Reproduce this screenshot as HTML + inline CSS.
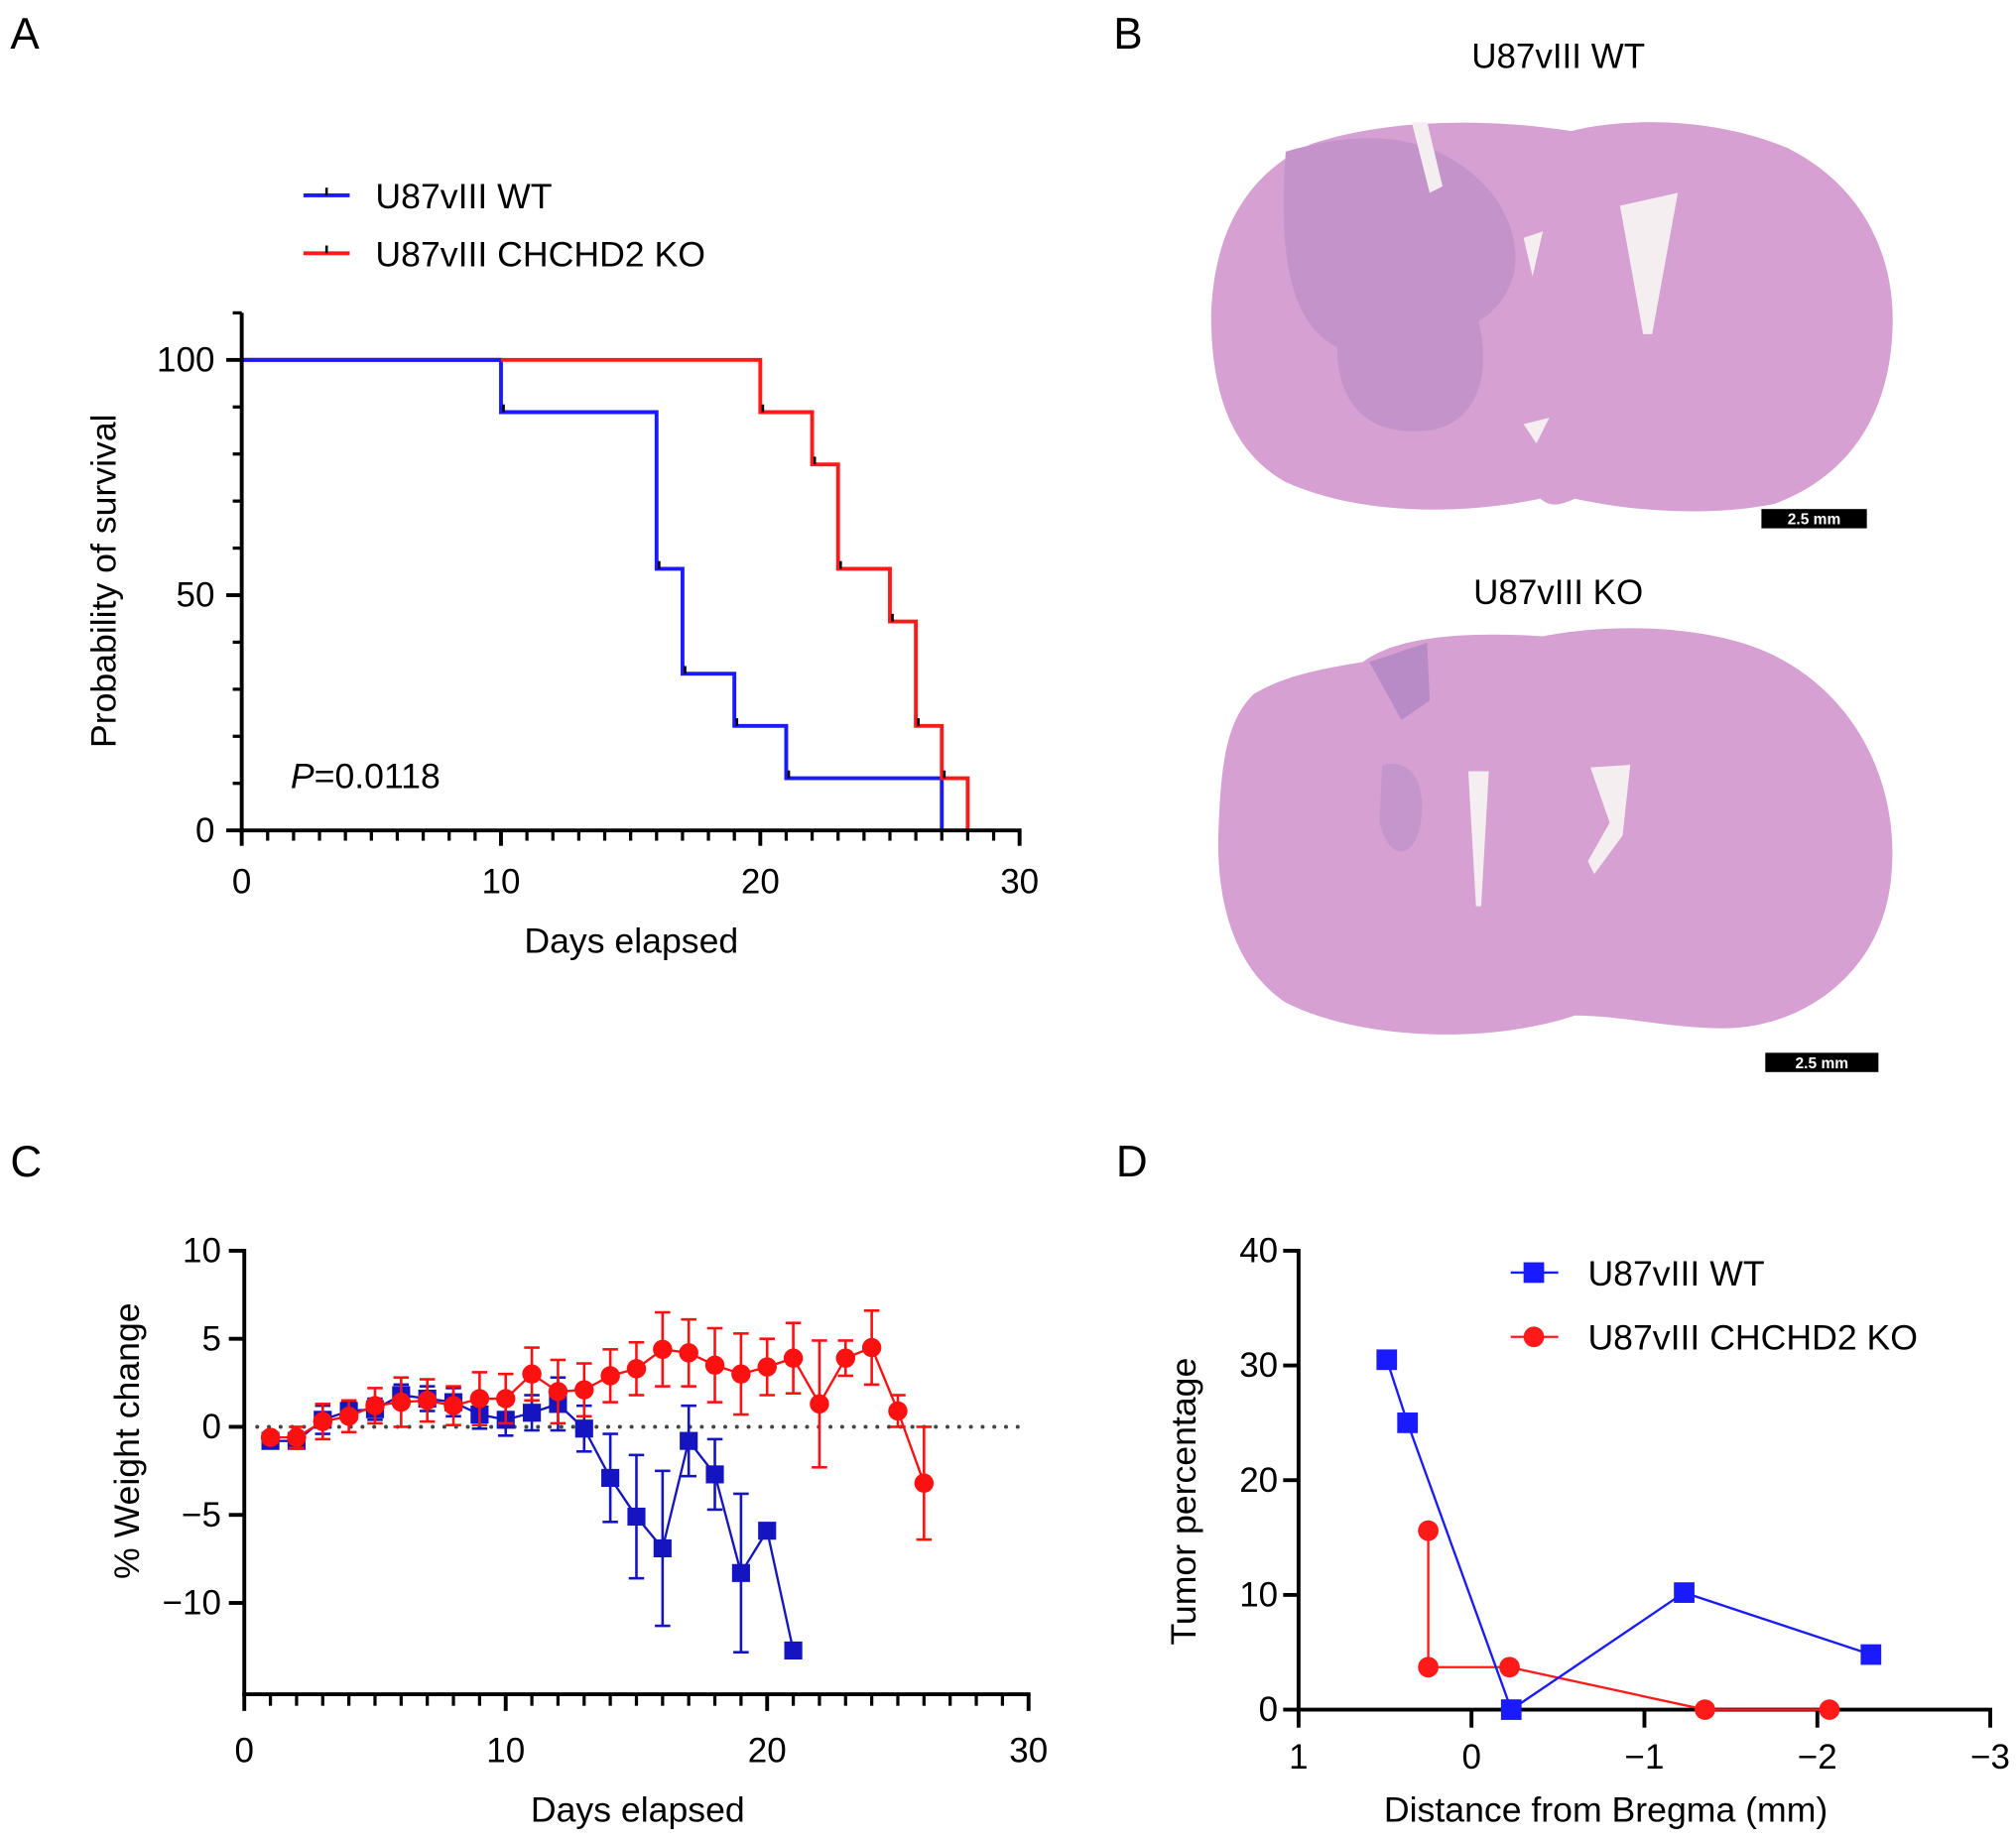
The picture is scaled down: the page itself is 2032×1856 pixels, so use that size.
<!DOCTYPE html>
<html><head><meta charset="utf-8"><style>
html,body{margin:0;padding:0;background:#fff;}
svg{display:block;font-family:"Liberation Sans",Arial,sans-serif;}
</style></head><body>
<svg id="fig" width="2032" height="1856" viewBox="0 0 1568 1432.2" xmlns="http://www.w3.org/2000/svg">
<!-- panel letters -->
<text x="8" y="38" font-size="34">A</text>
<text x="866" y="38" font-size="34">B</text>
<text x="8" y="915" font-size="34">C</text>
<text x="868" y="915" font-size="34">D</text>

<!-- Panel B brains -->
<g>
<text x="1212" y="53" font-size="27" text-anchor="middle">U87vIII WT</text>
<path d="M1222,102 C1260,92 1330,90 1390,115 C1450,145 1474,200 1472,255 C1470,320 1440,370 1380,392 C1330,402 1270,398 1225,388 C1212,394 1205,394 1198,388 C1140,400 1060,402 1000,375 C955,350 942,300 942,245 C944,180 970,135 1020,112 C1080,92 1160,92 1222,102 Z" fill="#d6a0d2"/>
<path d="M1000,118 C1060,100 1120,102 1160,150 C1190,190 1182,230 1150,250 C1160,290 1150,330 1110,335 C1060,340 1040,310 1040,270 C1000,250 995,190 1000,118 Z" fill="#c393ca"/>
<path d="M1098,95 L1110,95 L1122,145 L1112,150 Z M1260,160 L1305,150 L1285,260 L1278,260 Z M1185,185 L1200,180 L1192,215 Z M1185,330 L1205,325 L1195,345 Z" fill="#f4eef0"/>
<rect x="1370" y="396" width="82" height="15" fill="#000"/>
<text x="1411" y="408" font-size="12" font-weight="bold" fill="#fff" text-anchor="middle">2.5 mm</text>
</g>
<g>
<text x="1212" y="470" font-size="27" text-anchor="middle">U87vIII KO</text>
<path d="M1200,495 C1250,485 1330,485 1380,510 C1450,545 1480,620 1470,690 C1460,760 1400,800 1340,800 C1300,800 1260,790 1225,790 C1160,812 1060,810 1000,780 C955,750 945,690 948,640 C950,590 955,560 975,540 C1000,525 1030,520 1060,515 C1080,500 1120,490 1200,495 Z" fill="#d6a0d2"/>
<path d="M1065,515 L1110,500 L1112,545 L1090,560 Z" fill="#b88ac6"/>
<path d="M1075,595 C1095,590 1110,605 1105,640 C1100,670 1080,670 1073,640 Z" fill="#c596cc"/>
<path d="M1142,600 L1158,600 L1152,705 L1148,705 Z M1237,597 L1268,595 L1262,650 L1240,680 L1235,670 L1252,640 Z" fill="#f4eef0"/>
<rect x="1373" y="819" width="88" height="15" fill="#000"/>
<text x="1417" y="831" font-size="12" font-weight="bold" fill="#fff" text-anchor="middle">2.5 mm</text>
</g>

<g id="panelA"></g>
<g id="panelC"></g>
<g id="panelD"></g>
</svg>
<script>
// ---- Panel A data ----
const survDaysWT = [0, 10, 16, 17, 19, 21, 27];
const survWT = [100, 88.9, 55.6, 33.3, 22.2, 11.1, 0];
const survDaysKO = [0, 20, 22, 23, 25, 26, 27, 28];
const survKO = [100, 88.9, 77.8, 55.6, 44.4, 22.2, 11.1, 0];
const survXTicks = [0, 10, 20, 30];
const survYTicks = [0, 50, 100];
// ---- Panel C data ----
const wDaysWT = [1,2,3,4,5,6,7,8,9,10,11,12,13,14,15,16,17,18,19,20,21];
const wWT = [-0.8,-0.8,0.4,0.9,1.0,1.8,1.6,1.4,0.7,0.4,0.8,1.3,-0.1,-2.9,-5.1,-6.9,-0.8,-2.7,-8.3,-5.9,-12.7];
const wErrWT = [0.3,0.3,0.8,0.5,0.6,0.6,0.7,0.8,0.8,0.9,1.0,1.5,1.3,2.5,3.5,4.4,2.0,2.0,4.5,0,0];
const wDaysKO = [1,2,3,4,5,6,7,8,9,10,11,12,13,14,15,16,17,18,19,20,21,22,23,24,25,26];
const wKO = [-0.6,-0.6,0.3,0.6,1.2,1.4,1.5,1.2,1.6,1.6,3.0,2.0,2.1,2.9,3.3,4.4,4.2,3.5,3.0,3.4,3.9,1.3,3.9,4.5,0.9,-3.2];
const wErrKO = [0.3,0.6,1.0,0.9,1.0,1.4,1.2,1.1,1.5,1.4,1.5,1.8,1.5,1.5,1.5,2.1,1.9,2.1,2.3,1.6,2.0,3.6,1.0,2.1,0.9,3.2];
const wXTicks = [0, 10, 20, 30];
const wYTicks = [10, 5, 0, -5, -10];
// ---- Panel D data ----
const dXWT = [0.49, 0.37, -0.23, -1.23, -2.31];
const dYWT = [30.5, 25, 0, 10.2, 4.8];
const dXKO = [0.25, 0.25, -0.22, -1.35, -2.07];
const dYKO = [15.6, 3.7, 3.7, 0, 0];
const dXTicks = [1, 0, -1, -2, -3];
const dYTicks = [0, 10, 20, 30, 40];

const NS = "http://www.w3.org/2000/svg";
const TF = 27, LF = 27.5;
function mk(parent, tag, attrs, text) {
  const e = document.createElementNS(NS, tag);
  for (const k in attrs) e.setAttribute(k, attrs[k]);
  if (text !== undefined) e.textContent = text;
  parent.appendChild(e);
  return e;
}
function fmt(v){ return v < 0 ? "\u2212" + Math.abs(v) : String(v); }

// ===== Panel A =====
(function(){
  const g = document.getElementById("panelA");
  const x = d => 188 + d * (793 - 188) / 30;
  const y = p => 646 - p * 3.66;
  const legA = [["U87vIII WT", "#1a1aff", 152], ["U87vIII CHCHD2 KO", "#ff1a1a", 197]];
  legA.forEach(l => {
    const le = mk(g, "g", {});
    
    
    mk(le, "line", {x1:236, x2:272, y1:l[2], y2:l[2], stroke:l[1], "stroke-width":3});
    mk(le, "line", {x1:254, x2:254, y1:l[2]-6, y2:l[2], stroke:"#000", "stroke-width":2});
    mk(le, "text", {x:292, y:l[2]+10, "font-size":LF}, l[0]);
  });
  function steps(days, vals, color, name) {
    let d = "M" + x(days[0]) + "," + y(vals[0]);
    for (let i = 1; i < days.length; i++) {
      d += " H" + x(days[i]) + " V" + y(vals[i]);
    }
    const p = mk(g, "path", {d:d, fill:"none", stroke:color, "stroke-width":3});
    
    
    for (let i = 1; i < days.length - 1; i++) {
      const t = mk(g, "line", {x1:x(days[i])+2, x2:x(days[i])+2, y1:y(vals[i]), y2:y(vals[i])-6, stroke:"#000", "stroke-width":2});
      
      
    }
  }
  steps(survDaysWT, survWT, "#1a1aff", "survival-curve-wt");
  steps(survDaysKO, survKO, "#ff1a1a", "survival-curve-ko");
  mk(g, "line", {x1:x(0), x2:x(10), y1:y(100), y2:y(100), stroke:"#1a1aff", "stroke-width":3});
  const ax = mk(g, "g", {});
  
  
  mk(ax, "line", {x1:186, x2:x(30)+1.5, y1:646, y2:646, stroke:"#000", "stroke-width":3});
  for (let d = 0; d <= 30; d++) {
    const major = d % 10 === 0;
    mk(ax, "line", {x1:x(d), x2:x(d), y1:646, y2:646 + (major ? 12 : 8), stroke:"#000", "stroke-width":major?3:2.5});
  }
  survXTicks.forEach(t => mk(ax, "text", {x:x(t), y:695, "font-size":TF, "text-anchor":"middle"}, fmt(t)));
  mk(ax, "text", {x:491, y:741, "font-size":LF, "text-anchor":"middle"}, "Days elapsed");
  const ay = mk(g, "g", {});
  
  
  mk(ay, "line", {x1:188, x2:188, y1:y(110), y2:647.5, stroke:"#000", "stroke-width":3});
  for (let p = 0; p <= 110; p += 10) {
    const major = p % 50 === 0;
    mk(ay, "line", {x1:188, x2:188 - (major ? 12 : 7), y1:y(p), y2:y(p), stroke:"#000", "stroke-width":major?3:2.5});
  }
  survYTicks.forEach(t => mk(ay, "text", {x:167, y:y(t)+9, "font-size":TF, "text-anchor":"end"}, fmt(t)));
  mk(ay, "text", {x:0, y:0, "font-size":LF, "text-anchor":"middle", transform:"translate(90,452) rotate(-90)"}, "Probability of survival");
  const pv = mk(g, "text", {x:226, y:613, "font-size":LF});
  
  
  mk(pv, "tspan", {"font-style":"italic"}, "P");
  mk(pv, "tspan", {}, "=0.0118");
})();

// ===== Panel C =====
(function(){
  const g = document.getElementById("panelC");
  const x = d => 190 + d * (800 - 190) / 30;
  const y = v => 1110 - v * 13.7;
  mk(g, "line", {x1:200, x2:795, y1:y(0), y2:y(0), stroke:"#444", "stroke-width":3, "stroke-dasharray":"0.1 9", "stroke-linecap":"round"});
  function series(days, vals, errs, color, square, name) {
    const sg = mk(g, "g", {});
    
    
    let d = "";
    days.forEach((dd, i) => { d += (i ? " L" : "M") + x(dd) + "," + y(vals[i]); });
    mk(sg, "path", {d:d, fill:"none", stroke:color, "stroke-width":1.8});
    days.forEach((dd, i) => {
      if (errs[i] > 0) {
        const cx = x(dd), y1 = y(vals[i] + errs[i]), y2 = y(vals[i] - errs[i]);
        mk(sg, "line", {x1:cx, x2:cx, y1:y1, y2:y2, stroke:color, "stroke-width":2});
        mk(sg, "line", {x1:cx-6, x2:cx+6, y1:y1, y2:y1, stroke:color, "stroke-width":2});
        mk(sg, "line", {x1:cx-6, x2:cx+6, y1:y2, y2:y2, stroke:color, "stroke-width":2});
      }
    });
    days.forEach((dd, i) => {
      let m;
      if (square) m = mk(sg, "rect", {x:x(dd)-7, y:y(vals[i])-7, width:14, height:14, fill:color});
      else m = mk(sg, "circle", {cx:x(dd), cy:y(vals[i]), r:7.5, fill:color});
      
      
    });
  }
  series(wDaysWT, wWT, wErrWT, "#1414c0", true, "weight-series-wt");
  series(wDaysKO, wKO, wErrKO, "#ff1010", false, "weight-series-ko");
  const ax = mk(g, "g", {});
  
  
  mk(ax, "line", {x1:188.5, x2:x(30)+1.5, y1:1318, y2:1318, stroke:"#000", "stroke-width":3});
  for (let d = 0; d <= 30; d++) {
    const major = d % 10 === 0;
    mk(ax, "line", {x1:x(d), x2:x(d), y1:1318, y2:1318 + (major ? 13 : 9), stroke:"#000", "stroke-width":major?3:2.5});
  }
  wXTicks.forEach(t => mk(ax, "text", {x:x(t), y:1371, "font-size":TF, "text-anchor":"middle"}, fmt(t)));
  mk(ax, "text", {x:496, y:1417, "font-size":LF, "text-anchor":"middle"}, "Days elapsed");
  const ay = mk(g, "g", {});
  
  
  mk(ay, "line", {x1:190, x2:190, y1:y(10)-1.5, y2:1319.5, stroke:"#000", "stroke-width":3});
  wYTicks.forEach(t => {
    mk(ay, "line", {x1:190, x2:178, y1:y(t), y2:y(t), stroke:"#000", "stroke-width":3});
    mk(ay, "text", {x:172, y:y(t)+9, "font-size":TF, "text-anchor":"end"}, fmt(t));
  });
  mk(ay, "text", {x:0, y:0, "font-size":LF, "text-anchor":"middle", transform:"translate(108,1121) rotate(-90)"}, "% Weight change");
})();

// ===== Panel D =====
(function(){
  const g = document.getElementById("panelD");
  const x = v => 1010 + (1 - v) * 134.5;
  const y = v => 1330 - v * 8.925;
  function series(xs, ys, color, square, name) {
    const sg = mk(g, "g", {});
    
    
    let d = "";
    xs.forEach((xx, i) => { d += (i ? " L" : "M") + x(xx) + "," + y(ys[i]); });
    mk(sg, "path", {d:d, fill:"none", stroke:color, "stroke-width":1.8});
    xs.forEach((xx, i) => {
      let m;
      if (square) m = mk(sg, "rect", {x:x(xx)-8, y:y(ys[i])-8, width:16, height:16, fill:color});
      else m = mk(sg, "circle", {cx:x(xx), cy:y(ys[i]), r:8, fill:color});
      
      
    });
  }
  const ax = mk(g, "g", {});
  
  
  mk(ax, "line", {x1:1008.5, x2:x(-3)+1.5, y1:1330, y2:1330, stroke:"#000", "stroke-width":3});
  dXTicks.forEach(t => {
    mk(ax, "line", {x1:x(t), x2:x(t), y1:1330, y2:1344, stroke:"#000", "stroke-width":3});
    mk(ax, "text", {x:x(t), y:1376, "font-size":TF, "text-anchor":"middle"}, fmt(t));
  });
  mk(ax, "text", {x:1249, y:1417, "font-size":LF, "text-anchor":"middle"}, "Distance from Bregma (mm)");
  const ay = mk(g, "g", {});
  
  
  mk(ay, "line", {x1:1010, x2:1010, y1:y(40)-1.5, y2:1331.5, stroke:"#000", "stroke-width":3});
  dYTicks.forEach(t => {
    mk(ay, "line", {x1:1010, x2:998, y1:y(t), y2:y(t), stroke:"#000", "stroke-width":3});
    mk(ay, "text", {x:994, y:y(t)+9, "font-size":TF, "text-anchor":"end"}, fmt(t));
  });
  mk(ay, "text", {x:0, y:0, "font-size":LF, "text-anchor":"middle", transform:"translate(930,1168) rotate(-90)"}, "Tumor percentage");
  series(dXKO, dYKO, "#ff1a1a", false, "tumor-series-ko");
  series(dXWT, dYWT, "#1a1aff", true, "tumor-series-wt");
  const legD = [["U87vIII WT", "#1a1aff", 990, true], ["U87vIII CHCHD2 KO", "#ff1a1a", 1040, false]];
  legD.forEach(l => {
    const le = mk(g, "g", {});
    
    
    mk(le, "line", {x1:1175, x2:1212, y1:l[2], y2:l[2], stroke:l[1], "stroke-width":1.8});
    if (l[3]) mk(le, "rect", {x:1185, y:l[2]-8, width:16, height:16, fill:l[1]});
    else mk(le, "circle", {cx:1193, cy:l[2], r:8, fill:l[1]});
    mk(le, "text", {x:1235, y:l[2]+10, "font-size":LF}, l[0]);
  });
})();
</script>
</body></html>
